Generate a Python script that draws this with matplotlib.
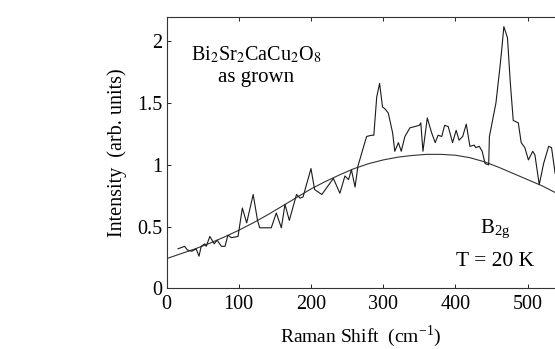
import matplotlib
matplotlib.use('Agg')
import matplotlib.pyplot as plt

# measured spectrum (Raman shift in cm^-1, intensity arb. units)
shift = [16, 25, 29, 35, 41, 45, 48, 53, 55, 60, 66, 70, 76, 81, 85, 90, 99,
         105, 111, 120, 126, 129, 145, 152, 159, 164, 170, 180, 185, 189, 200,
         205, 215, 231, 240, 247, 252, 256, 261, 265, 270, 277, 284, 287, 291,
         295, 299, 303, 307, 313, 316, 321, 325, 330, 337, 350, 352, 355, 361,
         367, 372, 376, 381, 385, 390, 396, 401, 405, 410, 415, 420, 426, 428,
         433, 437, 441, 446, 447, 456, 461, 464, 467, 472, 476, 480, 487, 491,
         496, 501, 507, 510, 516, 522, 529, 533, 538]
intensity = [0.32, 0.34, 0.31, 0.30, 0.32, 0.26, 0.34, 0.36, 0.34, 0.42, 0.36,
             0.39, 0.34, 0.34, 0.43, 0.41, 0.42, 0.65, 0.53, 0.76, 0.55, 0.49,
             0.49, 0.61, 0.49, 0.68, 0.55, 0.76, 0.73, 0.74, 0.97, 0.80, 0.76,
             0.89, 0.77, 0.91, 0.88, 0.96, 0.82, 0.99, 1.09, 1.23, 1.24, 1.24,
             1.55, 1.66, 1.47, 1.45, 1.42, 1.26, 1.11, 1.18, 1.11, 1.23, 1.30,
             1.32, 1.34, 1.11, 1.38, 1.26, 1.18, 1.24, 1.23, 1.32, 1.31, 1.18,
             1.28, 1.20, 1.23, 1.33, 1.15, 1.16, 1.14, 1.15, 1.11, 1.01, 1.00,
             1.23, 1.50, 1.76, 1.93, 2.12, 2.03, 1.66, 1.36, 1.34, 1.18, 1.14,
             1.04, 1.11, 1.08, 0.84, 1.01, 1.15, 1.14, 0.93]

# smooth background fit
fit_shift = [0, 20, 40, 60, 80, 100, 120, 140, 160, 180, 200, 220, 240, 260,
             280, 300, 320, 340, 360, 380, 400, 420, 440, 460, 480, 500, 520, 540]
fit_int = [0.24, 0.28, 0.32, 0.365, 0.415, 0.47, 0.53, 0.595, 0.665, 0.735,
           0.805, 0.865, 0.92, 0.97, 1.01, 1.04, 1.062, 1.076, 1.085, 1.085,
           1.078, 1.058, 1.025, 0.98, 0.93, 0.88, 0.83, 0.77]

xticks = [0, 100, 200, 300, 400, 500]
yticks = [0, 0.5, 1, 1.5, 2]
ytick_labels = ['0', '0.5', '1', '1.5', '2']

plt.rcParams['font.family'] = ['Liberation Serif', 'DejaVu Serif']
plt.rcParams['mathtext.fontset'] = 'stix'

fig = plt.figure(figsize=(5.55, 3.49), dpi=100)
ax = fig.add_axes([0.300, 0.174, 0.70, 0.778])

ax.plot(fit_shift, fit_int, color='#333333', lw=0.8)
ax.plot(shift, intensity, color='#1a1a1a', lw=0.8)

ax.set_xlim(0, 537.8)
ax.set_ylim(0, 2.2)
ax.set_xticks(xticks)
ax.set_yticks(yticks)
ax.set_yticklabels(ytick_labels)
ax.tick_params(direction='in', length=3, width=0.6, labelsize=14.5,
               top=True, right=False, pad=5)
ax.tick_params(axis='y', pad=3)
ax.spines['right'].set_visible(False)
for s in ['left', 'top', 'bottom']:
    ax.spines[s].set_linewidth(0.8)
    ax.spines[s].set_color('#333333')

ax.set_ylabel('Intensity  (arb. units)', fontsize=14.5, labelpad=7)
ax.set_xlabel(r'Raman Shift  (cm$^{\mathregular{-1}}$)', fontsize=14, labelpad=7)

ax.text(0.23, 0.86, r'Bi$_2$Sr$_2$CaCu$_2$O$_8$', transform=ax.transAxes,
        ha='center', va='center', fontsize=14.5)
ax.text(0.23, 0.775, 'as grown', transform=ax.transAxes,
        ha='center', va='center', fontsize=15)
ax.text(0.845, 0.215, r'B$_{\mathregular{2g}}$', transform=ax.transAxes,
        ha='center', va='center', fontsize=15)
ax.text(0.845, 0.1, 'T = 20 K', transform=ax.transAxes,
        ha='center', va='center', fontsize=15.5)

fig.savefig('out.png', dpi=100)
